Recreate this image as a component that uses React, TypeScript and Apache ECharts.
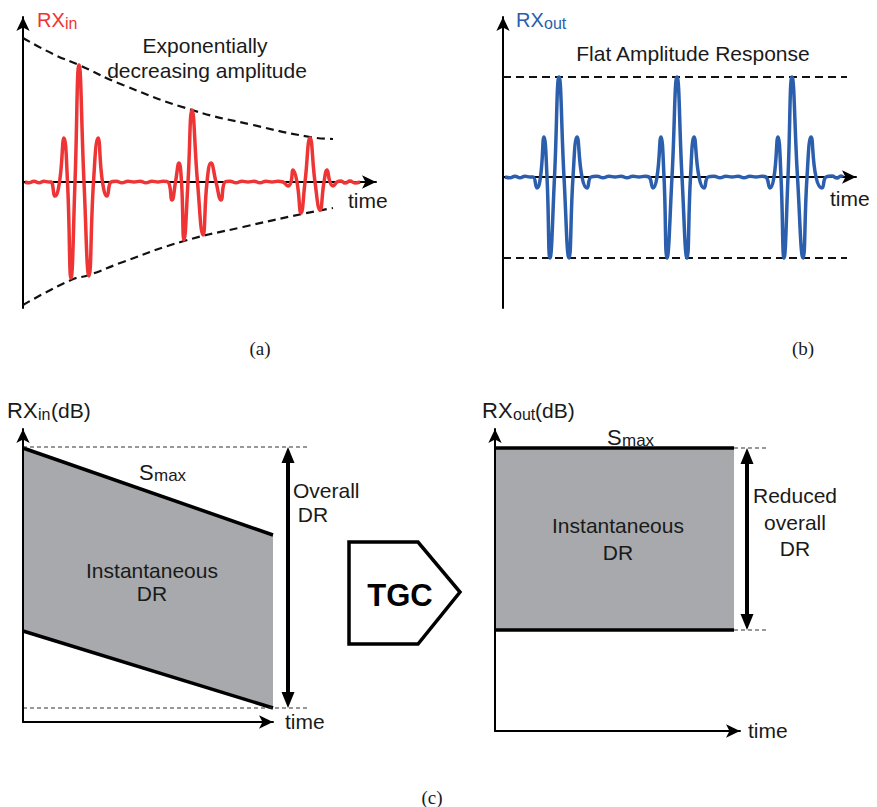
import React, { useEffect, useRef } from "react";
import * as echarts from "echarts";

// ---------- Panel (a): RXin burst echoes, [time, amplitude] ----------
const rxInWave: number[][] = [
  [2, 0], [6, -0.8], [11, 0.8], [16, -0.8], [21, 0.8], [26, 0], [28, 0],
  [32, -14], [36.5, 0], [41, 44], [44.5, 0], [48, -96], [52, 0], [56, 117], [61, 0], [66, -94], [70.5, 0], [75, 44], [79.5, 0], [84, -14], [88, 0],
  [93, 0.8], [99, -0.8], [105, 0.8], [111, 0], [117, 0.8], [123, -0.8], [129, 0.8], [135, 0], [140, 0.8], [145, 0],
  [149, -18], [152.5, 0], [156, 19], [158.5, 0], [161, -58], [165, 0], [169, 72], [174.5, 0], [180, -53], [184, 0], [188, 19], [193, 0], [198, -18], [202, 0],
  [207, 0.8], [213, -0.8], [219, 0.8], [225, 0], [231, 0.8], [237, -0.8], [243, 0.8], [249, 0], [255, 0.8], [260, 0],
  [265, -4], [268, 0], [270, 12], [274, 0], [278, -31], [282, 0], [287, 44], [292, 0], [297, -28], [301, 0], [304, 12], [307, 0], [310, -4], [314, 0],
  [318, 1], [322, -1], [327, 1], [332, -1], [337, 0],
];
const envUpperA: number[][] = [[0, 144], [30, 128], [56, 117], [100, 97], [169, 72], [230, 57], [287, 45], [310, 43]];
const envLowerA: number[][] = [[0, -123], [48, -98], [66, -93], [100, -80], [161, -59], [220, -45], [279, -32], [310, -26]];

// ---------- Panel (b): RXout after TGC ----------
const rxOutWave: number[][] = [
  [2, 0], [7, -0.8], [12, 0.8], [17, -0.8], [22, 0.8], [27, 0], [30, 0],
  [34, -11], [37.5, 0], [41, 40], [44, 0], [47, -81], [51.5, 0], [56, 100], [61, 0], [66, -81], [70, 0], [74, 40], [79, 0], [84, -11], [88, 0],
  [94, 0.8], [100, -0.8], [106, 0.8], [112, 0], [118, 0.8], [124, -0.8], [130, 0.8], [136, 0], [142, 0.8], [146, 0],
  [150, -11], [154, 0], [158, 40], [161, 0], [164, -81], [169, 0], [174, 100], [179, 0], [184, -81], [187.5, 0], [191, 40], [196, 0], [201, -11], [205, 0],
  [211, 0.8], [217, -0.8], [223, 0.8], [229, 0], [235, 0.8], [241, -0.8], [247, 0.8], [253, 0], [259, 0.8], [263, 0],
  [267, -11], [271, 0], [275, 40], [278, 0], [281, -81], [285, 0], [289, 100], [294.5, 0], [300, -81], [304, 0], [308, 40], [313, 0], [319, -11], [323, 0],
  [329, 1], [334, -1], [338, 1], [340, 0],
];
const flatLevelsB: number[] = [100, -81];
const flatSpanB: number[] = [0, 344];

// ---------- Panel (c) left: RXin (dB) ----------
const cInTime: number[] = [0, 250];
const cInSmax: number[] = [274, 187];
const cInSmin: number[] = [91, 14];
const cInOverall: number[] = [275, 14];
const cInRefSpan: number[] = [0, 284];
const cInArrowX = 265;

// ---------- Panel (c) right: RXout (dB) ----------
const cOutTime: number[] = [0, 239];
const cOutSmax: number[] = [283, 283];
const cOutSmin: number[] = [101, 101];
const cOutRefSpan: number[] = [239, 272];
const cOutArrowX = 252;

const RED = "#ee3434";
const BLUE = "#2b5eac";
const GRAY = "#a7a9ac";
const INK = "#1a1a1a";
const FONT = '"Liberation Sans", Arial, Helvetica, sans-serif';
const SERIF = '"Liberation Serif", "Times New Roman", serif';
const ARROW_HALF = 8;

const pts = (t: number[], v: number[]) => t.map((x, i) => [x, v[i]]);

function axis(gridIndex: number, min: number, max: number, z = 0, visible = true) {
  return {
    type: "value",
    gridIndex,
    min,
    max,
    z,
    show: visible,
    axisLine: {
      show: visible,
      onZero: true,
      symbol: ["none", "arrow"],
      symbolSize: [10, 14],
      lineStyle: { color: "#000", width: 2 },
    },
    axisTick: { show: false },
    axisLabel: { show: false },
    splitLine: { show: false },
  };
}

function txt(text: string, x: number, y: number, o: any = {}) {
  const size = o.size ?? 21;
  const align = o.align ?? "center";
  const weight = o.weight ?? "normal";
  const family = o.family ?? FONT;
  return {
    type: "text",
    x,
    y,
    silent: true,
    z: 10,
    style: {
      text,
      fill: o.color ?? INK,
      font: `${weight} ${size}px ${family}`,
      align,
      verticalAlign: "middle",
      textAlign: align,
      textVerticalAlign: "middle",
    },
  };
}

function band(idx: number, t: number[], top: number[], bottom: number[]) {
  return {
    type: "custom",
    name: "Instantaneous DR",
    xAxisIndex: idx,
    yAxisIndex: idx,
    data: [[t[0], top[0]]],
    z: 1,
    clip: false,
    renderItem: (_p: any, api: any) => {
      const poly = [...pts(t, top), ...pts(t, bottom).reverse()].map((p) => api.coord(p));
      return { type: "polygon", shape: { points: poly }, style: { fill: GRAY } };
    },
  };
}

function edge(idx: number, name: string, data: number[][]) {
  return {
    type: "line",
    name,
    xAxisIndex: idx,
    yAxisIndex: idx,
    data,
    symbol: "none",
    clip: false,
    z: 2,
    lineStyle: { color: "#000", width: 3.5 },
  };
}

function thinDash(idx: number, name: string, data: number[][]) {
  return {
    type: "line",
    name,
    xAxisIndex: idx,
    yAxisIndex: idx,
    data,
    symbol: "none",
    clip: false,
    z: 2,
    lineStyle: { color: "#333", width: 1.2, type: [4, 3] },
  };
}

function doubleArrow(idx: number, name: string, x: number, lo: number, hi: number) {
  return {
    type: "line",
    name,
    xAxisIndex: idx,
    yAxisIndex: idx,
    clip: false,
    z: 4,
    symbol: "triangle",
    symbolSize: [13, 16],
    showSymbol: true,
    showAllSymbol: true,
    itemStyle: { color: "#000" },
    lineStyle: { color: "#000", width: 4 },
    data: [
      { value: [x, lo + ARROW_HALF], symbolRotate: 180 },
      { value: [x, hi - ARROW_HALF], symbolRotate: 0 },
    ],
  };
}

function buildOption() {
  const grids = [
    { left: 23, top: 17, width: 353, height: 291 },
    { left: 503, top: 17, width: 353, height: 291 },
    { left: 23, top: 429, width: 250, height: 293 },
    { left: 495, top: 429, width: 245, height: 302 },
    // wider overlay frames (same scale, hidden axes) for reference lines and DR arrows
    { left: 23, top: 429, width: 300, height: 293 },
    { left: 495, top: 429, width: 300, height: 302 },
  ];
  const xAxis = [
    axis(0, 0, 353), axis(1, 0, 353), axis(2, 0, 250, 5), axis(3, 0, 245, 5),
    axis(4, 0, 300, 0, false), axis(5, 0, 300, 0, false),
  ];
  const yAxis = [
    axis(0, -126, 165), axis(1, -131, 160), axis(2, 0, 293, 5), axis(3, 0, 302, 5),
    axis(4, 0, 293, 0, false), axis(5, 0, 302, 0, false),
  ];

  const series: any[] = [
    // (a)
    {
      type: "line", name: "Upper envelope", xAxisIndex: 0, yAxisIndex: 0, data: envUpperA,
      smooth: true, symbol: "none", clip: false, z: 2,
      lineStyle: { color: "#111", width: 2.2, type: [8, 5] },
    },
    {
      type: "line", name: "Lower envelope", xAxisIndex: 0, yAxisIndex: 0, data: envLowerA,
      smooth: true, symbol: "none", clip: false, z: 2,
      lineStyle: { color: "#111", width: 2.2, type: [8, 5] },
    },
    {
      type: "line", name: "RXin", xAxisIndex: 0, yAxisIndex: 0, data: rxInWave,
      smooth: true, symbol: "none", clip: false, z: 3,
      lineStyle: { color: RED, width: 3.5 },
    },
    // (b)
    ...flatLevelsB.map((lv, i) => ({
      type: "line", name: "Flat level " + i, xAxisIndex: 1, yAxisIndex: 1,
      data: flatSpanB.map((t) => [t, lv]), symbol: "none", clip: false, z: 2,
      lineStyle: { color: "#111", width: 2.2, type: [8, 5] },
    })),
    {
      type: "line", name: "RXout", xAxisIndex: 1, yAxisIndex: 1, data: rxOutWave,
      smooth: true, symbol: "none", clip: false, z: 3,
      lineStyle: { color: BLUE, width: 3.5 },
    },
    // (c) left
    band(2, cInTime, cInSmax, cInSmin),
    edge(2, "Smax in", pts(cInTime, cInSmax)),
    edge(2, "Smin in", pts(cInTime, cInSmin)),
    thinDash(4, "Overall top", cInRefSpan.map((t) => [t, cInOverall[0]])),
    thinDash(4, "Overall bottom", cInRefSpan.map((t) => [t, cInOverall[1]])),
    doubleArrow(4, "Overall DR", cInArrowX, cInOverall[1], cInOverall[0]),
    // (c) right
    band(3, cOutTime, cOutSmax, cOutSmin),
    edge(3, "Smax out", pts(cOutTime, cOutSmax)),
    edge(3, "Smin out", pts(cOutTime, cOutSmin)),
    thinDash(5, "Reduced top", cOutRefSpan.map((t) => [t, cOutSmax[0]])),
    thinDash(5, "Reduced bottom", cOutRefSpan.map((t) => [t, cOutSmin[0]])),
    doubleArrow(5, "Reduced overall DR", cOutArrowX, cOutSmin[0], cOutSmax[0]),
  ];

  const graphic: any[] = [
    // (a)
    txt("RX", 37, 20, { size: 20, align: "left", color: RED }),
    txt("in", 65, 23, { size: 16, align: "left", color: RED }),
    txt("Exponentially", 205, 45),
    txt("decreasing amplitude", 207, 70),
    txt("time", 348, 200, { align: "left" }),
    txt("(a)", 260, 348, { size: 19, family: SERIF }),
    // (b)
    txt("RX", 516, 20, { size: 20, align: "left", color: BLUE }),
    txt("out", 544, 23, { size: 16, align: "left", color: BLUE }),
    txt("Flat Amplitude Response", 693, 53),
    txt("time", 830, 198, { align: "left" }),
    txt("(b)", 803, 348, { size: 19, family: SERIF }),
    // (c) left
    txt("RX", 7, 410, { size: 22, align: "left" }),
    txt("in", 38, 414, { size: 16, align: "left" }),
    txt("(dB)", 51, 410, { size: 21, align: "left" }),
    txt("S", 139, 472, { size: 22, align: "left" }),
    txt("max", 154, 475, { size: 17, align: "left" }),
    txt("Instantaneous", 152, 570),
    txt("DR", 152, 593),
    txt("Overall", 293, 490, { align: "left" }),
    txt("DR", 313, 514),
    txt("time", 285, 721, { align: "left" }),
    // TGC block
    {
      type: "polygon",
      silent: true,
      z: 10,
      shape: { points: [[349, 542], [418, 542], [460, 592], [418, 644], [349, 644]] },
      style: { fill: "#fff", stroke: "#000", lineWidth: 3.5, lineJoin: "miter" },
    },
    txt("TGC", 400, 595, { size: 31, weight: "bold", color: "#000" }),
    // (c) right
    txt("RX", 482, 410, { size: 22, align: "left" }),
    txt("out", 513, 414, { size: 16, align: "left" }),
    txt("(dB)", 535, 410, { size: 21, align: "left" }),
    txt("S", 607, 437, { size: 22, align: "left" }),
    txt("max", 622, 440, { size: 17, align: "left" }),
    txt("Instantaneous", 618, 525),
    txt("DR", 618, 552),
    txt("Reduced", 795, 495),
    txt("overall", 795, 522),
    txt("DR", 795, 548),
    txt("time", 748, 730, { align: "left" }),
    txt("(c)", 432, 797, { size: 19, family: SERIF }),
  ];

  return {
    animation: false,
    backgroundColor: "#ffffff",
    grid: grids,
    xAxis,
    yAxis,
    series,
    graphic: { elements: graphic },
  };
}

export default function App() {
  const ref = useRef<HTMLDivElement>(null);
  useEffect(() => {
    if (!ref.current) return;
    const chart = echarts.init(ref.current, undefined, { renderer: "svg", width: 877, height: 807 });
    chart.setOption(buildOption() as any);
    return () => chart.dispose();
  }, []);
  return (
    <div
      ref={ref}
      style={{ position: "fixed", left: 0, top: 0, width: 877, height: 807, background: "#fff" }}
    />
  );
}
